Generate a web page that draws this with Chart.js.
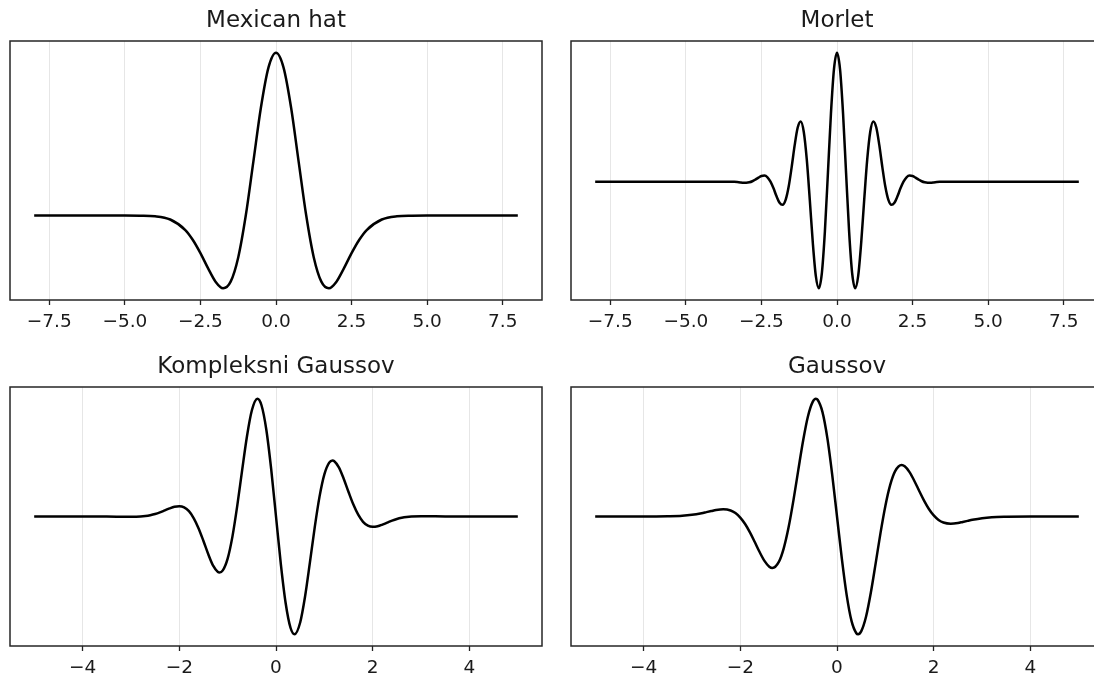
<!DOCTYPE html>
<html>
<head>
<meta charset="utf-8">
<script src="https://cdn.jsdelivr.net/npm/chart.js@4/dist/chart.umd.min.js"></script>
<style>
  html, body { margin: 0; padding: 0; width: 1094px; height: 679px; overflow: hidden; background: #fff; }
  .panel { position: absolute; }
</style>
</head>
<body>
<div class="panel" style="left:0px;top:0px"><canvas id="c-mexh" width="552" height="340"></canvas></div>
<div class="panel" style="left:561px;top:0px"><canvas id="c-morl" width="552" height="340"></canvas></div>
<div class="panel" style="left:0px;top:346px"><canvas id="c-cgau" width="552" height="340"></canvas></div>
<div class="panel" style="left:561px;top:346px"><canvas id="c-gaus" width="552" height="340"></canvas></div>
<script>
// ── Data ──────────────────────────────────────────────────
const mexhX = [-8, -5, -4.5, -4, -3.5, -3, -2.75, -2.5, -2.25, -2, -1.75, -1.5, -1.25, -1, -0.75, -0.5, -0.25,
  0, 0.25, 0.5, 0.75, 1, 1.25, 1.5, 1.75, 2, 2.25, 2.5, 2.75, 3, 3.5, 4, 4.5, 5, 8];
const mexhY = [0, 0, -0.001, -0.004, -0.021, -0.077, -0.130, -0.200, -0.280, -0.352, -0.387, -0.352, -0.223, 0, 0.286, 0.574, 0.788,
  0.867, 0.788, 0.574, 0.286, 0, -0.223, -0.352, -0.387, -0.352, -0.280, -0.200, -0.130, -0.077, -0.021, -0.004, -0.001, 0, 0];

const morletX = [-8,
  -3.5, -3.4, -3.3, -3.2, -3.1, -3, -2.9, -2.8, -2.7, -2.6, -2.5, -2.4, -2.3, -2.2, -2.1, -2, -1.9, -1.8,
  -1.7, -1.6, -1.5, -1.4, -1.3, -1.2, -1.1, -1, -0.9, -0.8, -0.7, -0.6, -0.5, -0.4, -0.3, -0.2, -0.1, 0,
  0.1, 0.2, 0.3, 0.4, 0.5, 0.6, 0.7, 0.8, 0.9, 1, 1.1, 1.2, 1.3, 1.4, 1.5, 1.6, 1.7, 1.8,
  1.9, 2, 2.1, 2.2, 2.3, 2.4, 2.5, 2.6, 2.7, 2.8, 2.9, 3, 3.1, 3.2, 3.3, 3.4, 3.5,
  8];
const morletY = [0,
  0.000, -0.001, -0.003, -0.006, -0.008, -0.008, -0.005, 0.003, 0.016, 0.031, 0.044, 0.047, 0.034, 0.000, -0.052, -0.114, -0.164, -0.180,
  -0.142, -0.040, 0.113, 0.283, 0.420, 0.467, 0.387, 0.172, -0.141, -0.475, -0.733, -0.827, -0.707, -0.384, 0.068, 0.530, 0.873, 1.000,
  0.873, 0.530, 0.068, -0.384, -0.707, -0.827, -0.733, -0.475, -0.141, 0.172, 0.387, 0.467, 0.420, 0.283, 0.113, -0.040, -0.142, -0.180,
  -0.164, -0.114, -0.052, 0.000, 0.034, 0.047, 0.044, 0.031, 0.016, 0.003, -0.005, -0.008, -0.008, -0.006, -0.003, -0.001, 0.000,
  0];

const cgauX = [-5, -3.5, -3, -2.8, -2.7, -2.6, -2.5, -2.4, -2.3, -2.2, -2.1, -2, -1.9, -1.8, -1.7, -1.6, -1.5, -1.4, -1.3, -1.2, -1.17,
  -1.1, -1, -0.9, -0.8, -0.7, -0.6, -0.5, -0.385, -0.3, -0.2, -0.1, 0,
  0.1, 0.2, 0.3, 0.385, 0.5, 0.6, 0.7, 0.8, 0.9, 1, 1.1, 1.17, 1.2, 1.3, 1.4, 1.5, 1.6, 1.7, 1.8, 1.9,
  2, 2.1, 2.2, 2.3, 2.4, 2.5, 2.6, 2.7, 2.8, 3, 3.5, 5];
const cgauY = [0, -0.001, -0.002, 0.000, 0.004, 0.011, 0.021, 0.035, 0.052, 0.069, 0.083, 0.088, 0.078, 0.045, -0.015, -0.101, -0.208, -0.321, -0.418, -0.472, -0.476,
  -0.458, -0.358, -0.169, 0.094, 0.394, 0.682, 0.900, 1.000, 0.945, 0.737, 0.404, 0,
  -0.404, -0.737, -0.945, -1.000, -0.900, -0.682, -0.394, -0.094, 0.169, 0.358, 0.458, 0.476, 0.472, 0.418, 0.321, 0.208, 0.101, 0.015, -0.045, -0.078,
  -0.088, -0.083, -0.069, -0.052, -0.035, -0.021, -0.011, -0.004, 0.000, 0.002, 0.001, 0];

const gausX = [-5, -4, -3.5, -3.2, -3, -2.8, -2.7, -2.6, -2.5, -2.351, -2.2, -2.1, -2, -1.9, -1.8, -1.7, -1.6, -1.5, -1.4, -1.336,
  -1.2, -1.1, -1, -0.9, -0.8, -0.7, -0.6, -0.5, -0.436, -0.4, -0.3, -0.2, -0.1, 0,
  0.1, 0.2, 0.3, 0.4, 0.436, 0.5, 0.6, 0.7, 0.8, 0.9, 1, 1.1, 1.2, 1.336, 1.4, 1.5, 1.6, 1.7, 1.8, 1.9,
  2, 2.1, 2.2, 2.351, 2.5, 2.6, 2.7, 2.8, 3, 3.2, 3.5, 4, 5];
const gausY = [0, 0, 0.002, 0.006, 0.014, 0.028, 0.037, 0.046, 0.055, 0.061, 0.051, 0.029, -0.009, -0.064, -0.135, -0.217, -0.302, -0.377, -0.426, -0.437,
  -0.383, -0.268, -0.090, 0.139, 0.396, 0.646, 0.852, 0.976, 1.000, 0.992, 0.887, 0.668, 0.358, 0,
  -0.358, -0.668, -0.887, -0.992, -1.000, -0.976, -0.852, -0.646, -0.396, -0.139, 0.090, 0.268, 0.383, 0.437, 0.426, 0.377, 0.302, 0.217, 0.135, 0.064,
  0.009, -0.029, -0.051, -0.061, -0.055, -0.046, -0.037, -0.028, -0.014, -0.006, -0.002, 0, 0];

const wideTicks = [-7.5, -5, -2.5, 0, 2.5, 5, 7.5];
const wideTickLabels = ["\u22127.5", "\u22125.0", "\u22122.5", "0.0", "2.5", "5.0", "7.5"];
const narrowTicks = [-4, -2, 0, 2, 4];
const narrowTickLabels = ["\u22124", "\u22122", "0", "2", "4"];

const FONT = "'DejaVu Sans', 'Liberation Sans', sans-serif";

// ── Box round the plot area, drawn over the curve ─────────
const frame = {
  id: "frame",
  afterDatasetsDraw(chart) {
    const { ctx, chartArea: a } = chart;
    ctx.save();
    ctx.strokeStyle = "#262626";
    ctx.lineWidth = 1.5;
    ctx.strokeRect(a.left, a.top, a.right - a.left, a.bottom - a.top);
    ctx.restore();
  }
};

// matplotlib-like 5% margin around the data
function withMargin(values) {
  const lo = Math.min(...values), hi = Math.max(...values);
  const pad = (hi - lo) * 0.05;
  return [lo - pad, hi + pad];
}

function makePanel(id, title, xs, ys, ticks, tickLabels) {
  const [xMin, xMax] = withMargin(xs);
  const [yMin, yMax] = withMargin(ys);
  new Chart(document.getElementById(id), {
    type: "line",
    data: {
      datasets: [{
        data: xs.map((x, i) => ({ x, y: ys[i] })),
        borderColor: "#000",
        borderWidth: 2.5,
        pointRadius: 0,
        cubicInterpolationMode: "monotone",
        fill: false
      }]
    },
    options: {
      responsive: false,
      animation: false,
      events: [],
      layout: { padding: { left: 10, right: 10, top: 0, bottom: 0 } },
      plugins: {
        legend: { display: false },
        tooltip: { enabled: false },
        title: {
          display: true,
          text: title,
          color: "#1a1a1a",
          font: { family: FONT, size: 23, weight: "normal", lineHeight: 1.2 },
          padding: { top: 7, bottom: 6.4 }
        }
      },
      scales: {
        x: {
          type: "linear",
          min: xMin,
          max: xMax,
          border: { display: false },
          grid: { color: "#e6e6e6", lineWidth: 1, drawTicks: true, tickLength: 5, tickColor: "#222", tickWidth: 1.3 },
          ticks: {
            color: "#1a1a1a",
            font: { family: FONT, size: 18.5 },
            padding: 5.8,
            maxRotation: 0,
            autoSkip: false,
            callback: (v, i) => tickLabels[i]
          },
          afterBuildTicks: s => { s.ticks = ticks.map(v => ({ value: v })); },
          afterFit: s => { s.height = 40; }
        },
        y: { type: "linear", display: false, min: yMin, max: yMax, bounds: "data" }
      }
    },
    plugins: [frame]
  });
}

makePanel("c-mexh", "Mexican hat", mexhX, mexhY, wideTicks, wideTickLabels);
makePanel("c-morl", "Morlet", morletX, morletY, wideTicks, wideTickLabels);
makePanel("c-cgau", "Kompleksni Gaussov", cgauX, cgauY, narrowTicks, narrowTickLabels);
makePanel("c-gaus", "Gaussov", gausX, gausY, narrowTicks, narrowTickLabels);
</script>
</body>
</html>
